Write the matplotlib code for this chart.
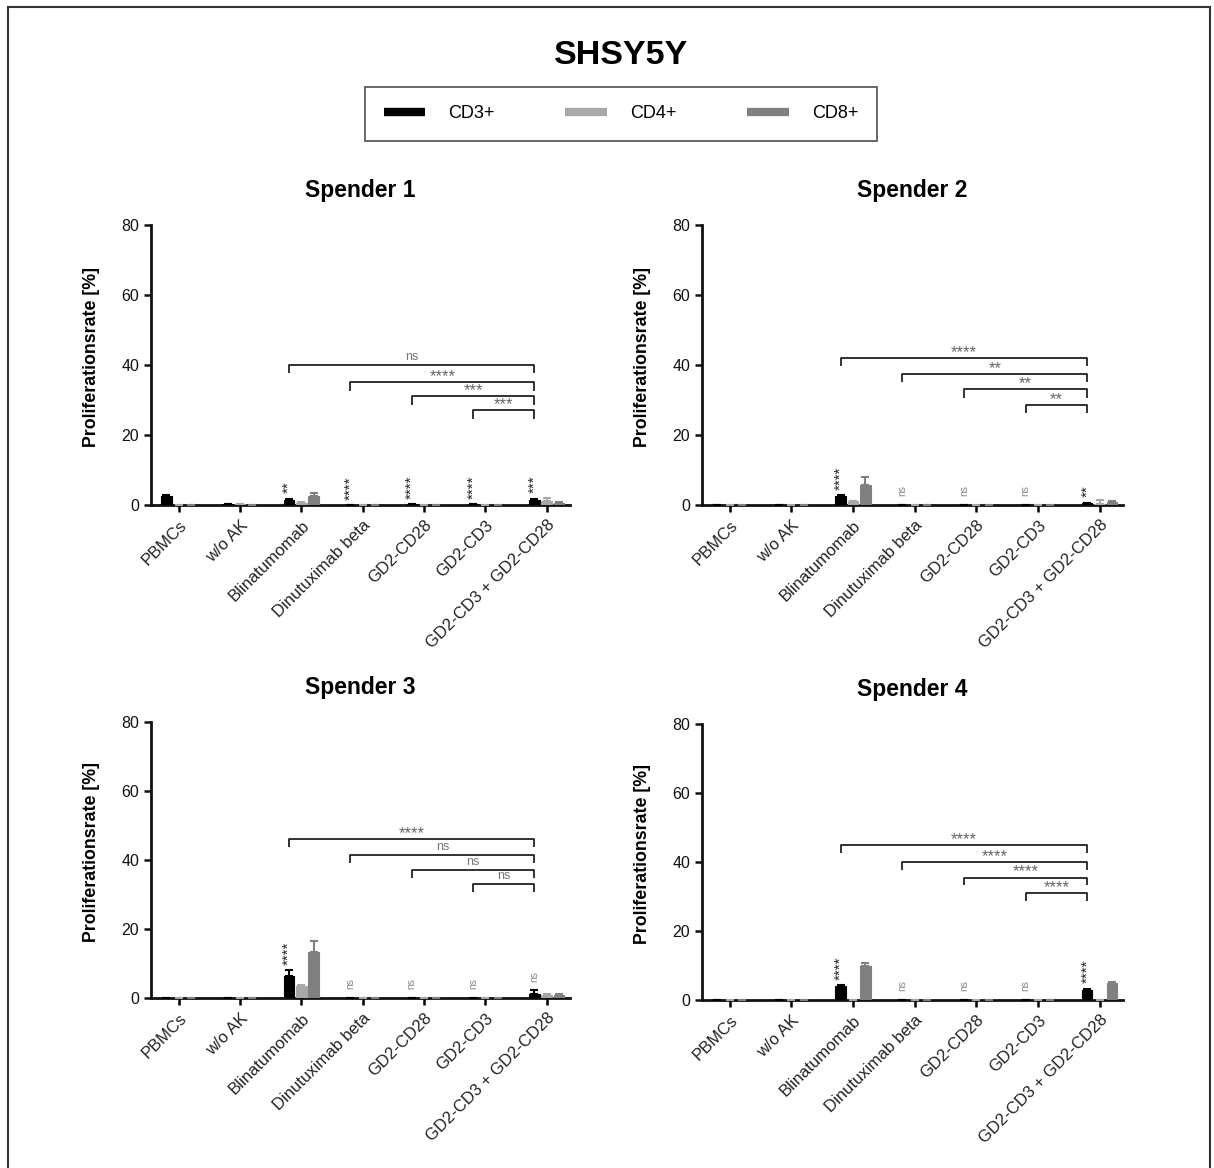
import matplotlib
matplotlib.use('Agg')
import matplotlib.pyplot as plt
from matplotlib.lines import Line2D
from matplotlib.patches import Rectangle
import numpy as np

plt.rcParams['font.family'] = ['Liberation Sans', 'DejaVu Sans']

categories = ["PBMCs", "w/o AK", "Blinatumomab", "Dinutuximab beta",
              "GD2-CD28", "GD2-CD3", "GD2-CD3 + GD2-CD28"]
series = ["CD3+", "CD4+", "CD8+"]
colors = ["#000000", "#a8a8a8", "#808080"]
donors = ["Spender 1", "Spender 2", "Spender 3", "Spender 4"]

# mean values per donor: [CD3, CD4, CD8]
s1_cd3 = [2.5, 0.3, 1.5, 0.0, 0.3, 0.3, 1.5]
s1_cd4 = [0.0, 0.3, 0.7, 0.0, 0.0, 0.0, 1.0]
s1_cd8 = [0.0, 0.0, 2.5, 0.0, 0.0, 0.0, 0.5]
s1_err3 = [0.3, 0.0, 0.3, 0.0, 0.0, 0.0, 0.3]
s1_err4 = [0.0, 0.0, 0.2, 0.0, 0.0, 0.0, 1.0]
s1_err8 = [0.0, 0.0, 1.0, 0.0, 0.0, 0.0, 0.3]

s2_cd3 = [0.0, 0.0, 2.5, 0.0, 0.0, 0.0, 0.5]
s2_cd4 = [0.0, 0.0, 1.0, 0.0, 0.0, 0.0, 0.4]
s2_cd8 = [0.0, 0.0, 5.8, 0.0, 0.0, 0.0, 0.8]
s2_err3 = [0.0, 0.0, 0.3, 0.0, 0.0, 0.0, 0.2]
s2_err4 = [0.0, 0.0, 0.2, 0.0, 0.0, 0.0, 1.0]
s2_err8 = [0.0, 0.0, 2.2, 0.0, 0.0, 0.0, 0.3]

s3_cd3 = [0.0, 0.0, 6.3, 0.0, 0.0, 0.0, 1.2]
s3_cd4 = [0.0, 0.0, 3.5, 0.0, 0.0, 0.0, 1.0]
s3_cd8 = [0.0, 0.0, 13.3, 0.0, 0.0, 0.0, 1.0]
s3_err3 = [0.0, 0.0, 1.8, 0.0, 0.0, 0.0, 1.0]
s3_err4 = [0.0, 0.0, 0.3, 0.0, 0.0, 0.0, 0.3]
s3_err8 = [0.0, 0.0, 3.2, 0.0, 0.0, 0.0, 0.3]

s4_cd3 = [0.0, 0.0, 4.0, 0.0, 0.0, 0.0, 3.0]
s4_cd4 = [0.0, 0.0, 0.0, 0.0, 0.0, 0.0, 0.0]
s4_cd8 = [0.0, 0.0, 10.0, 0.0, 0.0, 0.0, 5.0]
s4_err3 = [0.0, 0.0, 0.3, 0.0, 0.0, 0.0, 0.3]
s4_err4 = [0.0, 0.0, 0.0, 0.0, 0.0, 0.0, 0.0]
s4_err8 = [0.0, 0.0, 0.8, 0.0, 0.0, 0.0, 0.3]

# significance above CD3 bars
s1_sig = [None, None, "**", "****", "****", "****", "***"]
s2_sig = [None, None, "****", "ns", "ns", "ns", "**"]
s3_sig = [None, None, "****", "ns", "ns", "ns", "ns"]
s4_sig = [None, None, "****", "ns", "ns", "ns", "****"]

# brackets: (left group index, height, label); right end is always the last group
s1_brackets = [(2, 40, "ns"), (3, 35, "****"), (4, 31, "***"), (5, 27, "***")]
s2_brackets = [(2, 42, "****"), (3, 37.5, "**"), (4, 33, "**"), (5, 28.5, "**")]
s3_brackets = [(2, 46, "****"), (3, 41.5, "ns"), (4, 37, "ns"), (5, 33, "ns")]
s4_brackets = [(2, 45, "****"), (3, 40, "****"), (4, 35.5, "****"), (5, 31, "****")]

panels = [
    (s1_cd3, s1_cd4, s1_cd8, s1_err3, s1_err4, s1_err8, s1_sig, s1_brackets),
    (s2_cd3, s2_cd4, s2_cd8, s2_err3, s2_err4, s2_err8, s2_sig, s2_brackets),
    (s3_cd3, s3_cd4, s3_cd8, s3_err3, s3_err4, s3_err8, s3_sig, s3_brackets),
    (s4_cd3, s4_cd4, s4_cd8, s4_err3, s4_err4, s4_err8, s4_sig, s4_brackets),
]

W, H = 1214, 1168
fig = plt.figure(figsize=(W / 100, H / 100), dpi=100)

# axes rectangles in pixels: left, right, top(80), bottom(0)
rects = [(151, 570, 225, 505), (702, 1123, 225, 505),
         (151, 570, 722, 998), (702, 1123, 724, 1000)]

x = np.arange(len(categories))
offs = [-0.2, 0.0, 0.2]
bw = 0.17

for (l, r, t, b), name, p in zip(rects, donors, panels):
    ax = fig.add_axes([l / W, 1 - b / H, (r - l) / W, (b - t) / H])
    cd3, cd4, cd8, e3, e4, e8, sig, brackets = p
    vals = [cd3, cd4, cd8]
    errs = [e3, e4, e8]
    for k in range(3):
        v = np.array(vals[k])
        e = np.array(errs[k])
        ax.bar(x + offs[k], v, width=bw, color=colors[k], edgecolor=colors[k],
               linewidth=0.8, zorder=3)
        ax.errorbar(x + offs[k], v, yerr=[np.zeros_like(e), e], fmt='none',
                    ecolor=colors[k], elinewidth=1.5, capsize=3, capthick=1.5,
                    zorder=3)
    for i, s in enumerate(sig):
        if s is None:
            continue
        y0 = cd3[i] + e3[i] + 1.5
        if s == "ns":
            ax.text(x[i] - 0.2, y0 + 1.0, s, rotation=90, ha='center', va='bottom',
                    fontsize=7.5, color='#888888')
        else:
            ax.text(x[i] - 0.2, y0, s, rotation=90, ha='center', va='bottom',
                    fontsize=11, color='#222222')
    last = len(categories) - 1
    for (g, yb, lab) in brackets:
        xl = x[g] - 0.2
        xr = x[last] - 0.2
        ax.plot([xl, xl, xr, xr], [yb - 2.3, yb, yb, yb - 2.3], color='#222222',
                lw=1.3, zorder=4, solid_capstyle='butt')
        if lab == "ns":
            ax.text((xl + xr) / 2, yb + 0.6, lab, ha='center', va='bottom',
                    fontsize=9, color='#777777')
        else:
            ax.text((xl + xr) / 2, yb - 0.6, lab, ha='center', va='bottom',
                    fontsize=12, color='#666666')
    ax.set_xlim(-0.45, 6.38)
    ax.set_ylim(0, 80)
    ax.set_yticks([0, 20, 40, 60, 80])
    ax.set_xticks(x)
    ax.set_xticklabels(categories, rotation=45, ha='right', rotation_mode='anchor',
                       fontsize=12, color='#222222')
    ax.tick_params(axis='y', labelsize=11.5, length=5, width=1.8, colors='#111111')
    ax.tick_params(axis='x', length=5, width=1.8, pad=4)
    for sp in ['top', 'right']:
        ax.spines[sp].set_visible(False)
    for sp in ['left', 'bottom']:
        ax.spines[sp].set_linewidth(2.0)
        ax.spines[sp].set_color('#111111')
    ax.set_ylabel("Proliferationsrate [%]", fontsize=12.8, fontweight='bold')
    ax.yaxis.set_label_coords(-0.122, 0.53)
    ax.set_title(name, fontsize=16.5, fontweight='bold', pad=20)
    ax.patch.set_alpha(0)

fig.text(621 / W, 1 - 56 / H, "SHSY5Y", ha='center', va='center',
         fontsize=24.5, fontweight='bold')

handles = [Line2D([0], [0], color=c, lw=6, solid_capstyle='butt') for c in colors]
leg = fig.legend(handles, series, loc='center', bbox_to_anchor=(621 / W, 1 - 114 / H),
                 ncol=3, fontsize=13, handlelength=2.3, handletextpad=1.3,
                 columnspacing=3.9, frameon=True, fancybox=False, borderpad=1.0)
leg.get_frame().set_edgecolor('#222222')
leg.get_frame().set_linewidth(1.2)

fig.patches.append(Rectangle((8 / W, -0.01), (1210 - 8) / W, 1.01 - 7 / H,
                             transform=fig.transFigure, fill=False,
                             edgecolor='#333333', linewidth=1.5))

fig.savefig("out.png", dpi=100)
